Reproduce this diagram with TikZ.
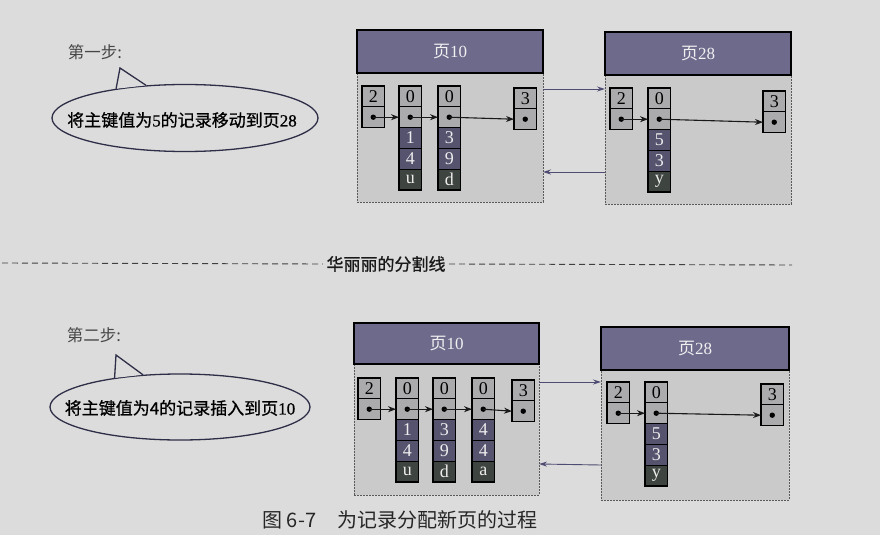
\documentclass[tikz,border=0pt]{standalone}
\usepackage{fontspec}
\setmainfont{Liberation Serif}
\newfontfamily\cjk{Noto Sans CJK SC}
\newfontfamily\cjkm{Noto Sans CJK SC}[FakeBold=0.8]
\newfontfamily\serifm{Liberation Serif}[FakeBold=0.8]
\usetikzlibrary{arrows.meta,shapes.geometric}
\definecolor{bgc}{HTML}{DCDCDC}
\definecolor{headc}{HTML}{6E6A8C}
\definecolor{bodyc}{HTML}{CACACA}
\definecolor{cellc}{HTML}{ABABAD}
\definecolor{purc}{HTML}{56536F}
\definecolor{darkc}{HTML}{3E443F}
\definecolor{inkc}{HTML}{2E2E48}
\definecolor{linkc}{HTML}{4E4C72}
\tikzset{
  cellg/.style={draw=black, line width=1.3pt, fill=cellc, minimum width=22.5pt, minimum height=20.8pt, inner sep=0pt, outer sep=0pt, font=\fontsize{18}{18}\selectfont},
  cellp/.style={cellg, fill=purc, text=white!85!gray},
  celld/.style={cellg, fill=darkc, text=white!85!gray},
  ptr/.style={-{Stealth[length=8pt,width=6pt]}, line width=1.1pt, draw=black!90},
  pagelink/.style={-{Stealth[length=8pt,width=5pt]}, line width=0.9pt, draw=linkc},
  pagehead/.style={draw=black, line width=1.5pt, fill=headc, text=white!88!gray, inner sep=0pt, outer sep=0pt, anchor=north west, font=\fontsize{17}{17}\selectfont},
  pagebody/.style={draw=black!65, dash pattern=on 2pt off 1pt, line width=1pt, fill=bodyc, anchor=north west, inner sep=0pt, outer sep=0pt},
  bubble/.style={draw=inkc, line width=1.3pt, ellipse, inner sep=0pt},
  bubtext/.style={font=\cjkm\fontsize{17}{17}\selectfont, text=black},
  steplabel/.style={font=\cjk\fontsize{16.5}{16.5}\selectfont, text=black!72},
  divline/.style={line width=0.9pt, draw=black!75, dash pattern=on 6pt off 4pt},
}
\newcommand\RecPair[4]{%
  \node[cellg,anchor=north west] (#1-1) at (#2,#3) {#4};
  \node[cellg,anchor=north] (#1-2) at (#1-1.south) {};
  \fill (#1-2.center) circle (2.7);}
\newcommand\RecCol[7]{%
  \RecPair{#1}{#2}{#3}{#4}%
  \node[cellp,anchor=north] (#1-3) at (#1-2.south) {#5};
  \node[cellp,anchor=north] (#1-4) at (#1-3.south) {#6};
  \node[celld,anchor=north] (#1-5) at (#1-4.south) {#7};}
\begin{document}
\begin{tikzpicture}[x=1pt,y=-1pt]
\fill[bgc] (0,0) rectangle (880,535);
\useasboundingbox (0,0) rectangle (880,535);

% ---------- step 1 ----------
\node[steplabel] (s1) at (95,52) {第一步:};
\node[bubble, minimum width=266pt, minimum height=67pt] (call1) at (185,118) {};
\coordinate (tip1) at (120,68);
\fill[bgc] (call1.157) -- (tip1) -- (call1.140) -- cycle;
\draw[draw=inkc, line width=1.3pt, line join=miter] (call1.157) -- (tip1) -- (call1.140);
\node[bubtext] (call1t) at (182,120) {将主键值为{\serifm 5}的记录移动到页{\serifm 28}};

% page 10 (top)
\node[pagebody, minimum width=186pt, minimum height=129pt] (pa10b) at (357,73) {};
\node[pagehead, minimum width=186pt, minimum height=43pt] (pa10h) at (357,30) {{\cjk 页}10};
% page 28 (top)
\node[pagebody, minimum width=186pt, minimum height=129pt] (pa28b) at (605,75) {};
\node[pagehead, minimum width=186pt, minimum height=43pt] (pa28h) at (605,32) {{\cjk 页}28};

\RecPair{a1}{362}{86}{2}
\RecCol{a2}{399}{86}{0}{1}{4}{u}
\RecCol{a3}{438}{86}{0}{3}{9}{d}
\RecPair{a4}{514}{88}{3}
\draw[ptr] (a1-2.center) -- (a2-2.west);
\draw[ptr] (a2-2.center) -- (a3-2.west);
\draw[ptr] (a3-2.center) -- (a4-2.west);

\RecPair{b1}{610}{88}{2}
\RecCol{b2}{648}{88}{0}{5}{3}{y}
\RecPair{b3}{763}{91}{3}
\draw[ptr] (b1-2.center) -- (b2-2.west);
\draw[ptr] (b2-2.center) -- (b3-2.west);

\draw[pagelink] ([yshift=-16pt]pa10b.north east) -- ([yshift=-14pt]pa28b.north west);
\draw[pagelink] ([yshift=-97pt]pa28b.north west) -- ([yshift=-99pt]pa10b.north east);

% ---------- divider ----------
\node[font=\cjkm\fontsize{17}{17}\selectfont, text=black!90] (div) at (386,264) {华丽丽的分割线};
\coordinate (dl) at (2,263);
\coordinate (dr) at (792,265);
\draw[divline] (dl) -- (div.west);
\draw[divline] (div.east) -- (dr);

% ---------- step 2 ----------
\node[steplabel] (s2) at (94,335) {第二步:};
\node[bubble, minimum width=260pt, minimum height=66pt] (call2) at (180,407) {};
\coordinate (tip2) at (116,355);
\fill[bgc] (call2.156) -- (tip2) -- (call2.139.5) -- cycle;
\draw[draw=inkc, line width=1.3pt, line join=miter] (call2.156) -- (tip2) -- (call2.139.5);
\node[bubtext] (call2t) at (180,408) {将主键值为{\cjkm 4}的记录插入到页{\serifm 10}};

% page 10 (bottom)
\node[pagebody, minimum width=185pt, minimum height=131pt] (pb10b) at (354,364) {};
\node[pagehead, minimum width=185pt, minimum height=41pt] (pb10h) at (354,323) {{\cjk 页}10};
% page 28 (bottom)
\node[pagebody, minimum width=188pt, minimum height=130pt] (pb28b) at (601,370) {};
\node[pagehead, minimum width=188pt, minimum height=43pt] (pb28h) at (601,327) {{\cjk 页}28};

\RecPair{c1}{358}{378}{2}
\RecCol{c2}{396}{378}{0}{1}{4}{u}
\RecCol{c3}{433}{378}{0}{3}{9}{d}
\RecCol{c4}{472}{378}{0}{4}{4}{a}
\RecPair{c5}{512}{380}{3}
\draw[ptr] (c1-2.center) -- (c2-2.west);
\draw[ptr] (c2-2.center) -- (c3-2.west);
\draw[ptr] (c3-2.center) -- (c4-2.west);
\draw[ptr] (c4-2.center) -- (c5-2.west);

\RecPair{d1}{607}{382}{2}
\RecCol{d2}{645}{382}{0}{5}{3}{y}
\RecPair{d3}{761}{384}{3}
\draw[ptr] (d1-2.center) -- (d2-2.west);
\draw[ptr] (d2-2.center) -- (d3-2.west);

\draw[pagelink] ([yshift=-18pt]pb10b.north east) -- ([yshift=-12pt]pb28b.north west);
\draw[pagelink] ([yshift=-95pt]pb28b.north west) -- ([yshift=-100pt]pb10b.north east);

% ---------- caption ----------
\node[anchor=west, font=\cjk\fontsize{20}{20}\selectfont, text=black!85] (cap) at (259,520) {图 6-7\hspace{21pt}为记录分配新页的过程};
\end{tikzpicture}
\end{document}
